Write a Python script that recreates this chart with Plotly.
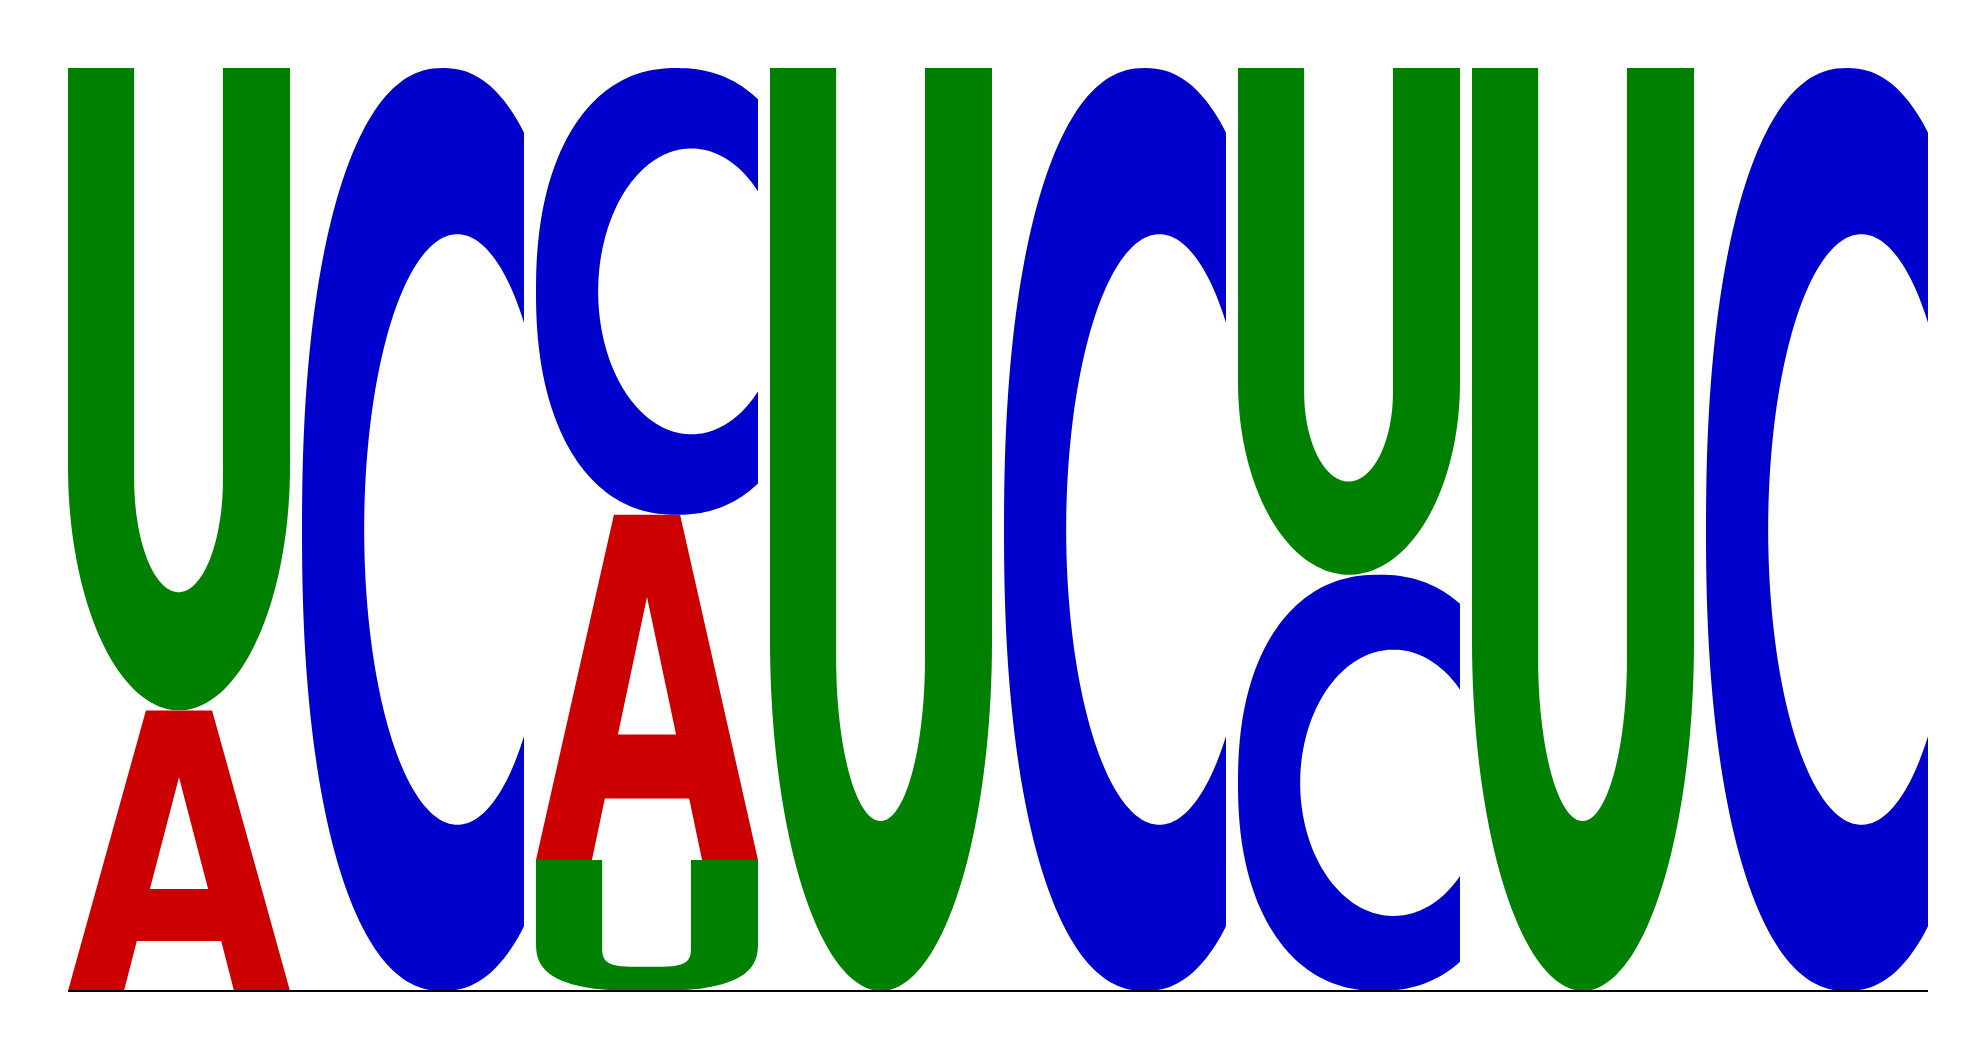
import numpy as np
import plotly.graph_objects as go

# sequence logo, probability per letter and position
positions = [1, 2, 3, 4, 5, 6, 7, 8]
prob_A = [0.304, 0.0, 0.374, 0.0, 0.0, 0.0, 0.0, 0.0]
prob_C = [0.0, 1.0, 0.484, 0.0, 1.0, 0.451, 0.0, 1.0]
prob_U = [0.696, 0.0, 0.142, 1.0, 0.0, 0.549, 1.0, 0.0]

letter_colors = {"A": "#CC0000", "C": "#0000CC", "U": "#008000"}

GLYPH_W = 222 / 234  # glyph width relative to column pitch


def sup(c, n):
    return np.sign(c) * np.abs(c) ** (2.0 / n)


def glyph_A():
    outer = [(0, 0), (0.351, 1), (0.649, 1), (1, 0), (0.748, 0),
             (0.69, 0.178), (0.31, 0.178), (0.252, 0)]
    hole = [(0.369, 0.363), (0.5, 0.762), (0.631, 0.363)]
    return [outer, hole]


def glyph_C():
    # outer rim, slightly squarish ellipse
    cx, rx, ry, n = 0.635, 0.635, 0.5, 2.25
    t0 = np.arccos(((1 - cx) / rx) ** (n / 2))
    th = np.linspace(t0, 2 * np.pi - t0, 160)
    outer = list(zip(cx + rx * sup(np.cos(th), n), 0.5 + ry * sup(np.sin(th), n)))
    # counter
    cxi, rxi, ryi = 0.70, 0.42, 0.32
    t1 = np.arccos((1 - cxi) / rxi)
    th = np.linspace(2 * np.pi - t1, t1, 140)
    inner = list(zip(cxi + rxi * np.cos(th), 0.5 + ryi * np.sin(th)))
    return [outer + inner]


def glyph_U(n_out=2.0, n_in=2.0):
    th = np.linspace(np.pi, 2 * np.pi, 80)
    outer = list(zip(0.5 + 0.5 * sup(np.cos(th), n_out),
                     0.38 + 0.38 * sup(np.sin(th), n_out)))
    th = np.linspace(2 * np.pi, np.pi, 60)
    inner = list(zip(0.498 + 0.2 * sup(np.cos(th), n_in),
                     0.36 + 0.176 * sup(np.sin(th), n_in)))
    poly = [(0, 1)] + outer + [(1, 1), (0.698, 1)] + inner + [(0.298, 1)]
    return [poly]


glyphs = {"A": glyph_A(), "C": glyph_C(), "U": glyph_U()}
small_U = glyph_U(2.8, 4.0)  # short U is drawn squarer in the reference


def to_path(polys, x0, y0, h):
    parts = []
    for poly in polys:
        pts = ["%.5f,%.5f" % (x0 + u * GLYPH_W, y0 + v * h) for u, v in poly]
        parts.append("M" + "L".join(pts) + "Z")
    return "".join(parts)


shapes = []
for i, pos in enumerate(positions):
    col = {"A": prob_A[i], "C": prob_C[i], "U": prob_U[i]}
    x0 = pos - 1
    y0 = 0.0
    # smallest at the bottom
    for letter, p in sorted(col.items(), key=lambda kv: kv[1]):
        if p <= 0:
            continue
        g = small_U if (letter == "U" and p < 0.2) else glyphs[letter]
        shapes.append(dict(
            type="path", xref="x", yref="y",
            path=to_path(g, x0, y0, p),
            fillcolor=letter_colors[letter], fillrule="evenodd",
            line=dict(width=0), layer="below",
        ))
        y0 += p

fig = go.Figure()
fig.add_trace(go.Scatter(
    x=[positions[0] - 1, positions[-1] - 1 + GLYPH_W], y=[0, 0],
    mode="lines", line=dict(color="black", width=2),
    hoverinfo="skip", showlegend=False,
))

fig.update_layout(
    width=1980, height=1044,
    margin=dict(l=0, r=0, t=0, b=0),
    paper_bgcolor="white", plot_bgcolor="white",
    shapes=shapes,
    showlegend=False,
)
fig.update_xaxes(visible=False, range=[-60 / 234, 1920 / 234], fixedrange=True)
fig.update_yaxes(visible=False, range=[-61 / 922, 1 + 60 / 922], fixedrange=True)

fig.write_html("out.html")
